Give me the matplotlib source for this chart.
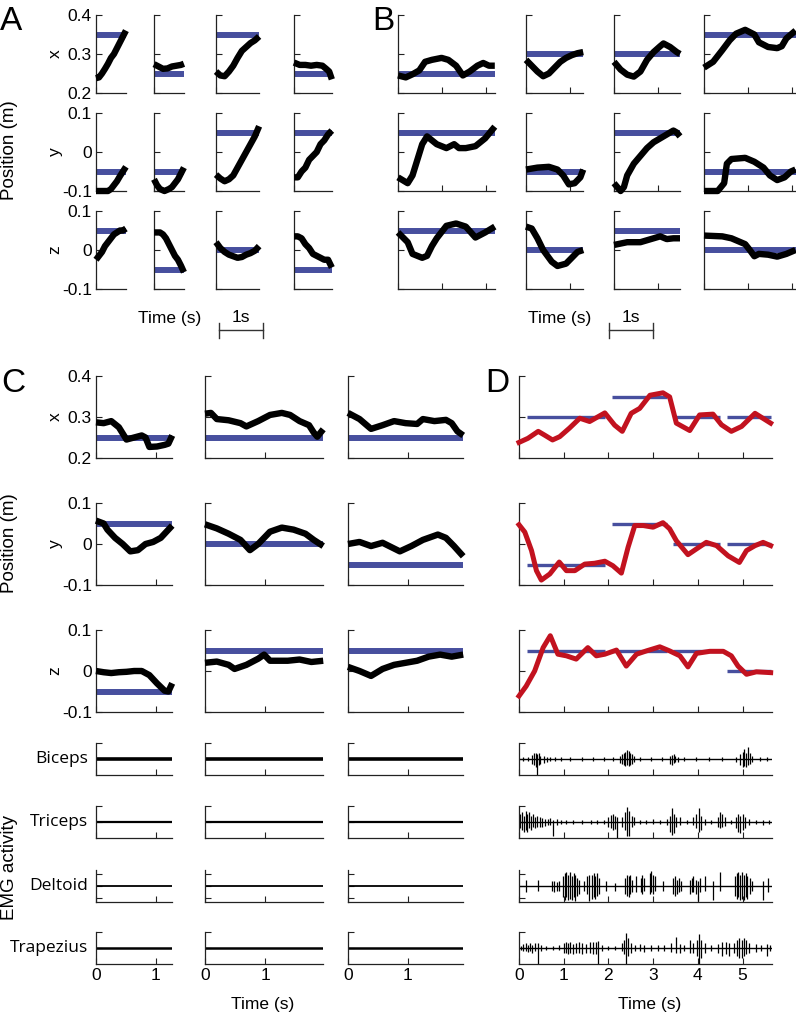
import matplotlib.pyplot as plt
import numpy as np

plt.rcParams['font.family'] = ['Liberation Sans', 'DejaVu Sans']

# ---------------- data ----------------
# trajectories are (fraction of trial, position in m) pairs
A_dur = [0.68, 0.68, 0.98, 0.86]
A_goal_x = [0.35, 0.25, 0.35, 0.25]
A_goal_y = [-0.05, -0.05, 0.05, 0.05]
A_goal_z = [0.05, -0.05, 0.0, -0.05]
A_x = [
    [(0, .238), (.1, .24), (.2, .25), (.3, .262), (.4, .275), (.5, .29), (.6, .30), (.7, .315), (.8, .33), (.9, .345), (1, .36)],
    [(0, .274), (.15, .268), (.3, .262), (.45, .263), (.6, .268), (.75, .27), (.9, .272), (1, .275)],
    [(0, .255), (.1, .245), (.2, .243), (.3, .255), (.4, .27), (.5, .29), (.6, .308), (.7, .318), (.8, .328), (.9, .335), (1, .345)],
    [(0, .278), (.15, .272), (.3, .272), (.45, .27), (.6, .272), (.75, .27), (.85, .262), (.93, .255), (1, .235)],
]
A_y = [
    [(0, -.1), (.2, -.1), (.4, -.1), (.5, -.095), (.6, -.085), (.7, -.075), (.8, -.062), (.9, -.05), (1, -.038)],
    [(0, -.07), (.1, -.085), (.2, -.095), (.35, -.1), (.5, -.095), (.6, -.09), (.7, -.08), (.8, -.07), (.9, -.055), (1, -.04)],
    [(0, -.058), (.1, -.068), (.2, -.075), (.3, -.07), (.4, -.06), (.5, -.04), (.6, -.02), (.7, 0), (.8, .02), (.9, .04), (1, .066)],
    [(0, -.065), (.1, -.065), (.2, -.05), (.3, -.04), (.4, -.02), (.5, -.01), (.6, 0), (.7, .02), (.8, .03), (.9, .045), (1, .055)],
]
A_z = [
    [(0, -.025), (.1, -.015), (.2, -.005), (.3, .01), (.4, .02), (.5, .03), (.6, .04), (.7, .045), (.8, .05), (.9, .05), (1, .055)],
    [(0, .045), (.2, .045), (.3, .04), (.4, .03), (.5, .015), (.6, 0), (.7, -.015), (.8, -.025), (.9, -.04), (1, -.057)],
    [(0, .02), (.1, .005), (.2, -.005), (.3, -.012), (.5, -.02), (.6, -.018), (.7, -.012), (.8, -.008), (.9, -.002), (1, .01)],
    [(0, .035), (.1, .035), (.2, .03), (.3, .015), (.4, .005), (.5, -.01), (.6, -.015), (.7, -.02), (.8, -.025), (.9, -.025), (1, -.045)],
]

B_dur = [2.2, 1.3, 1.5, 2.08]
B_goal_x = [0.25, 0.30, 0.30, 0.35]
B_goal_y = [0.05, -0.05, 0.05, -0.05]
B_goal_z = [0.05, 0.0, 0.05, 0.0]
B_x = [
    [(0, .245), (.08, .24), (.15, .248), (.22, .258), (.28, .28), (.35, .285), (.45, .29), (.52, .285), (.6, .27), (.67, .245), (.74, .255), (.82, .27), (.88, .277), (.94, .27), (1, .27)],
    [(0, .285), (.1, .27), (.2, .255), (.3, .243), (.4, .25), (.5, .265), (.6, .28), (.7, .29), (.8, .297), (.9, .302), (1, .305)],
    [(0, .28), (.1, .26), (.2, .247), (.3, .242), (.4, .255), (.5, .285), (.6, .305), (.7, .32), (.75, .327), (.85, .318), (.95, .305), (1, .30)],
    [(0, .265), (.1, .28), (.2, .31), (.28, .335), (.35, .352), (.45, .362), (.55, .35), (.6, .33), (.7, .318), (.8, .315), (.85, .32), (.9, .34), (1, .36)],
]
B_y = [
    [(0, -.065), (.1, -.08), (.15, -.06), (.2, -.02), (.25, .02), (.3, .04), (.35, .03), (.4, .02), (.5, .01), (.58, .02), (.63, .01), (.7, .01), (.8, .015), (.9, .035), (1, .065)],
    [(0, -.045), (.2, -.04), (.4, -.038), (.55, -.045), (.65, -.06), (.75, -.083), (.85, -.08), (.95, -.065), (1, -.045)],
    [(0, -.08), (.1, -.1), (.15, -.09), (.2, -.06), (.3, -.03), (.4, -.01), (.5, .01), (.6, .025), (.7, .035), (.8, .045), (.9, .055), (.95, .05), (1, .04)],
    [(0, -.1), (.15, -.1), (.22, -.08), (.25, -.03), (.3, -.018), (.45, -.015), (.55, -.025), (.65, -.04), (.72, -.06), (.8, -.072), (.88, -.065), (.95, -.05), (1, -.045)],
]
B_z = [
    [(0, .045), (.1, .02), (.15, -.01), (.2, -.015), (.25, -.02), (.3, -.015), (.35, .01), (.4, .03), (.5, .062), (.6, .068), (.7, .06), (.8, .032), (.9, .045), (1, .06)],
    [(0, .06), (.1, .055), (.2, .03), (.3, 0), (.45, -.03), (.55, -.041), (.7, -.035), (.8, -.02), (.9, -.005), (1, 0)],
    [(0, .013), (.2, .02), (.4, .02), (.6, .03), (.7, .035), (.8, .028), (.9, .03), (1, .03)],
    [(0, .037), (.2, .035), (.3, .03), (.4, .02), (.45, .015), (.5, 0), (.55, -.016), (.6, -.01), (.7, -.012), (.8, -.017), (.9, -.01), (1, 0)],
]

C_dur = [1.27, 1.97, 1.92]
C_goal_x = [0.25, 0.25, 0.25]
C_goal_y = [0.05, 0.0, -0.05]
C_goal_z = [-0.05, 0.05, 0.05]
C_x = [
    [(0, .287), (.1, .285), (.2, .29), (.3, .275), (.35, .26), (.4, .245), (.5, .25), (.6, .255), (.65, .25), (.7, .227), (.8, .228), (.9, .232), (.95, .235), (1, .255)],
    [(0, .308), (.05, .31), (.1, .295), (.2, .292), (.3, .285), (.35, .277), (.45, .29), (.55, .305), (.65, .31), (.72, .305), (.8, .29), (.88, .28), (.92, .262), (.95, .252), (1, .27)],
    [(0, .31), (.1, .295), (.2, .271), (.3, .28), (.4, .29), (.5, .285), (.6, .283), (.65, .295), (.75, .29), (.85, .293), (.9, .285), (.95, .265), (1, .255)],
]
C_y = [
    [(0, .057), (.1, .05), (.15, .035), (.25, .015), (.35, 0), (.45, -.018), (.55, -.015), (.65, 0), (.75, .005), (.85, .015), (.9, .025), (1, .045)],
    [(0, .048), (.1, .038), (.2, .025), (.3, .01), (.38, -.015), (.45, 0), (.55, .03), (.65, .04), (.75, .035), (.85, .025), (.92, .01), (1, -.005)],
    [(0, 0), (.1, .005), (.2, -.005), (.3, .003), (.45, -.018), (.55, -.005), (.65, .01), (.78, .023), (.85, .015), (.92, -.005), (1, -.03)],
]
C_z = [
    [(0, 0), (.1, -.003), (.2, -.005), (.3, -.003), (.4, -.002), (.5, 0), (.6, 0), (.7, -.01), (.8, -.03), (.9, -.048), (.95, -.05), (1, -.03)],
    [(0, .02), (.1, .023), (.2, .015), (.25, .005), (.35, .015), (.45, .03), (.5, .04), (.55, .025), (.7, .025), (.8, .028), (.9, .022), (1, .025)],
    [(0, .01), (.1, 0), (.2, -.012), (.3, .005), (.4, .015), (.5, .02), (.6, .025), (.7, .035), (.8, .04), (.9, .035), (1, .04)],
]

# panel D: (time s, position m)
D_dur = 5.66
D_seg_start = [0.18, 2.07, 3.45, 4.66]
D_seg_end = [1.92, 3.30, 4.50, 5.63]
D_goal_x = [0.30, 0.35, 0.30, 0.30]
D_goal_y = [-0.05, 0.05, 0.0, 0.0]
D_goal_z = [0.05, 0.05, 0.05, 0.0]
D_x = [(0, .238), (.2, .248), (.43, .265), (.57, .256), (.75, .244), (.91, .252), (1.13, .273), (1.36, .297),
       (1.58, .289), (1.92, .31), (2.14, .28), (2.31, .265), (2.51, .309), (2.7, .321), (2.93, .353), (3.22, .359),
       (3.37, .349), (3.52, .285), (3.82, .267), (4.04, .305), (4.34, .307), (4.53, .281), (4.75, .265),
       (4.98, .277), (5.28, .309), (5.63, .285)]
D_y = [(0, .047), (.13, .029), (.28, -.016), (.39, -.065), (.5, -.088), (.69, -.073), (.9, -.044), (1.06, -.065),
       (1.25, -.065), (1.47, -.049), (1.69, -.047), (1.92, -.042), (2.1, -.053), (2.29, -.071), (2.44, -.008),
       (2.59, .045), (2.78, .045), (3.0, .041), (3.22, .052), (3.37, .037), (3.52, .008), (3.78, -.026),
       (3.97, -.012), (4.19, .004), (4.42, -.004), (4.68, -.029), (4.93, -.045), (5.09, -.016), (5.28, -.004),
       (5.46, .004), (5.63, -.004)]
D_z = [(0, -.061), (.16, -.037), (.35, 0), (.54, .057), (.7, .086), (.87, .041), (1.06, .037), (1.28, .029),
       (1.54, .057), (1.73, .037), (1.92, .041), (2.18, .051), (2.4, .012), (2.63, .041), (2.85, .049),
       (3.15, .059), (3.37, .049), (3.6, .037), (3.78, .01), (3.97, .043), (4.27, .048), (4.57, .048),
       (4.75, .037), (4.9, .012), (5.09, -.008), (5.31, -.002), (5.63, -.004)]

muscles = ['Biceps', 'Triceps', 'Deltoid', 'Trapezius']
# EMG spikes in D: (time s, up, down) in normalised units
bic_D = [(0.10, .1, .1), (0.20, .15, .15), (0.30, .25, .3), (0.34, .35, .35), (0.38, .4, .5), (0.41, .3, 1.0),
         (0.44, .35, .4), (0.48, .2, .3), (0.55, .2, .25), (0.62, .15, .2), (0.70, .12, .15), (0.80, .1, .12),
         (0.95, .1, .1), (1.15, .1, .12), (1.40, .1, .1), (1.65, .1, .1), (1.90, .1, .1), (2.10, .12, .12),
         (2.25, .2, .25), (2.30, .3, .3), (2.34, .35, .4), (2.38, .45, .45), (2.42, .55, .4), (2.45, .5, .45),
         (2.48, .35, .35), (2.52, .3, .3), (2.58, .2, .2), (2.70, .15, .15), (2.95, .12, .12), (3.20, .1, .1),
         (3.38, .2, .3), (3.42, .25, .35), (3.46, .3, .25), (3.50, .2, .2), (3.55, .15, .2), (3.70, .1, .1),
         (3.95, .1, .1), (4.25, .1, .1), (4.55, .1, .1), (4.85, .15, .2), (4.95, .3, .4), (5.00, .45, .5),
         (5.04, .6, .45), (5.08, .4, .5), (5.12, .75, .4), (5.16, .35, .3), (5.22, .2, .2), (5.40, .1, .1),
         (5.55, .1, .1)]
tri_D = [(0.03, .5, .4), (0.07, .6, .5), (0.11, .4, .6), (0.15, .7, .5), (0.19, .5, .6), (0.23, .6, .4),
         (0.27, .4, .5), (0.31, .5, .3), (0.36, .3, .4), (0.41, .4, .3), (0.46, .3, .3), (0.52, .25, .3),
         (0.58, .2, .25), (0.64, .2, .2), (0.70, .25, .2), (0.76, .15, .85), (0.85, .2, .2), (0.95, .15, .15),
         (1.05, .12, .15), (1.2, .1, .1), (1.4, .1, .1), (1.6, .12, .12), (1.75, .15, .12), (1.9, .15, .15),
         (2.0, .3, .3), (2.05, .45, .4), (2.1, .5, .5), (2.15, .4, .45), (2.2, .3, 1.0), (2.3, .3, .3),
         (2.38, .6, .5), (2.42, .95, .9), (2.46, .7, .85), (2.52, .4, .3), (2.58, .3, .2), (2.7, .15, .15),
         (2.85, .12, .12), (3.0, .2, .15), (3.15, .12, .12), (3.3, .2, .2), (3.38, .35, .6), (3.42, .9, .8),
         (3.46, .5, .7), (3.52, .3, .3), (3.6, .3, .2), (3.75, .15, .15), (3.9, .3, .2), (3.97, .5, .4),
         (4.02, .9, .6), (4.07, .4, .5), (4.15, .2, .2), (4.3, .15, .15), (4.45, .3, .3), (4.5, .6, .4),
         (4.55, .5, .3), (4.6, .3, .25), (4.75, .15, .15), (4.85, .3, .4), (4.9, .5, .6), (4.95, .4, .7),
         (5.0, .5, .5), (5.05, .3, .4), (5.15, .2, .2), (5.3, .15, .15), (5.45, .15, .2), (5.6, .15, .15)]
del_D = [(0.16, .35, .4), (0.43, .4, .3), (0.74, .3, .3), (0.79, .3, .35), (0.84, .25, .3), (0.9, .3, .3),
         (0.98, .6, .7), (1.02, .8, .9), (1.06, .9, .7), (1.1, .7, .9), (1.14, .9, .8), (1.18, .6, .9),
         (1.22, .8, .7), (1.26, .7, .95), (1.3, .5, .6), (1.35, .4, .5), (1.45, .3, .3), (1.52, .6, .5),
         (1.56, .7, .95), (1.63, .7, .8), (1.67, .8, .7), (1.71, .6, .8), (1.75, .8, .6), (1.79, .5, .5),
         (1.95, .3, .3), (2.15, .2, .3), (2.37, .5, .5), (2.41, .7, .6), (2.45, .6, .7), (2.49, .7, .5),
         (2.53, .4, .4), (2.62, .6, .4), (2.72, .5, .4), (2.76, .7, .5), (2.8, .5, .3), (2.92, .8, .5),
         (2.96, .95, .4), (3.0, .7, .5), (3.04, .6, .3), (3.22, .3, .3), (3.45, .5, .5), (3.49, .6, .6),
         (3.53, .4, .5), (3.57, .5, .4), (3.62, .3, .3), (3.82, .4, .5), (3.86, .5, .4), (3.9, .6, .4),
         (3.95, .4, .5), (4.0, .3, .95), (4.05, .5, .4), (4.15, .6, .3), (4.34, .3, .9), (4.5, .9, .3),
         (4.83, .6, .6), (4.87, .8, .8), (4.91, .9, .7), (4.95, .7, .9), (4.99, .9, .8), (5.03, .7, .9),
         (5.07, .8, .7), (5.11, .6, .8), (5.16, .5, .5), (5.22, .3, .3), (5.46, .3, .9), (5.57, .5, .4)]
tra_D = [(0.05, .15, .15), (0.1, .25, .2), (0.15, .3, .2), (0.2, .2, .25), (0.25, .3, .2), (0.3, .2, .3),
         (0.35, .3, .2), (0.43, .3, 1.0), (0.5, .2, .2), (0.6, .15, .15), (0.75, .15, .15), (0.9, .2, .15),
         (1.0, .3, .3), (1.05, .35, .3), (1.1, .3, .4), (1.15, .35, .3), (1.2, .25, .35), (1.28, .3, .3),
         (1.35, .35, .3), (1.42, .3, .35), (1.5, .25, .3), (1.58, .35, .3), (1.65, .4, .35), (1.72, .35, .4),
         (1.77, .45, 1.0), (1.85, .2, .2), (2.0, .15, .15), (2.15, .15, .15), (2.3, .3, .2), (2.36, .5, .4),
         (2.4, .95, 1.0), (2.44, .6, .5), (2.5, .3, .3), (2.6, .2, .2), (2.7, .25, .2), (2.8, .2, .25),
         (2.95, .2, .2), (3.1, .2, .2), (3.25, .2, .2), (3.4, .3, .25), (3.52, .7, .3), (3.6, .25, .3),
         (3.7, .2, .2), (3.82, .5, .3), (3.9, .3, .3), (3.98, .5, .5), (4.03, .9, 1.0), (4.07, .5, .6),
         (4.15, .3, .3), (4.3, .2, .2), (4.45, .25, .3), (4.55, .4, .5), (4.62, .35, .4), (4.7, .3, .5),
         (4.8, .3, .3), (4.88, .5, .5), (4.93, .6, .6), (4.98, .5, .6), (5.03, .6, .5), (5.08, .5, .4),
         (5.15, .3, .3), (5.3, .25, .25), (5.42, .2, .2), (5.54, .25, .5), (5.62, .2, .2)]
emg_D = [bic_D, tri_D, del_D, tra_D]
# baseline noise thickness of the flat EMG in C
emg_C_width = [2.6, 1.6, 1.3, 1.8]

# ---------------- layout ----------------
W, H = 796, 1017
fig = plt.figure(figsize=(W / 100, H / 100), dpi=100)
BLUE = '#474f9e'
RED = '#c2121f'
FS = 12.5


def box(x, y, w, h):
    return [x / W, 1 - (y + h) / H, w / W, h / H]


def style(ax, dur, ylim, yticks, ylabels=False):
    ax.set_xlim(0, dur)
    ax.set_ylim(*ylim)
    for s in ['top', 'right']:
        ax.spines[s].set_visible(False)
    for s in ['left', 'bottom']:
        ax.spines[s].set_linewidth(0.9)
        ax.spines[s].set_color('#222222')
    ax.tick_params(direction='in', length=4, width=0.8, labelsize=FS, pad=3, colors='#222222',
                   labelcolor='black')
    ax.set_xticks(np.arange(0, int(dur) + 1))
    ax.set_xticklabels([])
    ax.set_yticks(yticks)
    if ylabels:
        ax.set_yticklabels(['%g' % v for v in yticks])
    else:
        ax.set_yticklabels([])


rows_lim = [((0.2, 0.4), [0.2, 0.3, 0.4]), ((-0.1, 0.1), [-0.1, 0, 0.1]), ((-0.1, 0.1), [-0.1, 0, 0.1])]


def traj_panel(lefts, tops, h, pps, durs, goals, trajs):
    axes = []
    for r in range(3):
        row = []
        for c, dur in enumerate(durs):
            ax = fig.add_axes(box(lefts[c], tops[r], dur * pps, h))
            style(ax, dur, rows_lim[r][0], rows_lim[r][1])
            ax.plot([0, dur], [goals[r][c]] * 2, color=BLUE, lw=4.3, solid_capstyle='butt', zorder=2)
            tr = np.array(trajs[r][c])
            ax.plot(tr[:, 0] * dur, tr[:, 1], color='black', lw=4.6, solid_joinstyle='round',
                    solid_capstyle='butt', zorder=3, clip_on=False)
            row.append(ax)
        axes.append(row)
    return axes


# panel A and B
AB_tops = [15, 113, 211]
axA = traj_panel([96, 154, 216, 294], AB_tops, 78, 44, A_dur,
                 [A_goal_x, A_goal_y, A_goal_z], [A_x, A_y, A_z])
axB = traj_panel([398, 526, 614, 704], AB_tops, 78, 44, B_dur,
                 [B_goal_x, B_goal_y, B_goal_z], [B_x, B_y, B_z])
for r in range(3):
    axA[r][0].set_yticklabels(['%g' % v for v in rows_lim[r][1]])

# panel C
C_tops = [376, 503, 630]
axC = traj_panel([96, 205, 348], C_tops, 82, 60, C_dur,
                 [C_goal_x, C_goal_y, C_goal_z], [C_x, C_y, C_z])
for r in range(3):
    axC[r][0].set_yticklabels(['%g' % v for v in rows_lim[r][1]])

# panel D
D_goals = [D_goal_x, D_goal_y, D_goal_z]
D_trajs = [D_x, D_y, D_z]
for r in range(3):
    ax = fig.add_axes(box(519, C_tops[r], D_dur * 44.7, 82))
    style(ax, D_dur, rows_lim[r][0], rows_lim[r][1])
    for s0, s1, g in zip(D_seg_start, D_seg_end, D_goals[r]):
        ax.plot([s0, s1], [g, g], color=BLUE, lw=2.4, solid_capstyle='butt', zorder=2)
    tr = np.array(D_trajs[r])
    ax.plot(tr[:, 0], tr[:, 1], color=RED, lw=3.6, solid_joinstyle='round', zorder=3, clip_on=False)

# EMG rows
emg_tops = [743, 806, 870, 932]
for m, name in enumerate(muscles):
    yt = [-0.75, 0, 0.75] if name == 'Deltoid' else [0, 1]
    for c, (left, dur) in enumerate(zip([96, 205, 348], C_dur)):
        ax = fig.add_axes(box(left, emg_tops[m], dur * 60, 32))
        style(ax, dur, (-1, 1), yt)
        ax.plot([0, dur], [0, 0], color='black', lw=emg_C_width[m], solid_capstyle='butt')
        if m == 3:
            ax.set_xticklabels([str(v) for v in range(int(dur) + 1)])
    ax = fig.add_axes(box(519, emg_tops[m], D_dur * 44.7, 32))
    style(ax, D_dur, (-1, 1), yt)
    ax.plot([0, D_dur], [0, 0], color='black', lw=1.0)
    sp = np.array(emg_D[m])
    ax.vlines(sp[:, 0], -sp[:, 2], sp[:, 1], color='black', lw=0.9)
    if m == 3:
        ax.set_xticklabels([str(v) for v in range(int(D_dur) + 1)])
    fig.text(88 / W, 1 - (emg_tops[m] + 16) / H, name, ha='right', va='center', fontsize=FS,
             family=['Open Sans', 'DejaVu Sans'])

# scale bars (1 s) under A and B
for ax, x0 in [(axA[2][2], 0.07), (axB[2][2], -0.11)]:
    tr = ax.get_xaxis_transform()
    ax.plot([x0, x0 + 1], [-0.53, -0.53], color='#333333', lw=1.0, transform=tr, clip_on=False)
    for xe in (x0, x0 + 1):
        ax.plot([xe, xe], [-0.43, -0.63], color='#333333', lw=1.0, transform=tr, clip_on=False)
    ax.text(x0 + 0.5, -0.36, '1s', transform=tr, ha='center', va='center', fontsize=FS)

# texts
def ftext(x, y, s, **kw):
    fig.text(x / W, 1 - y / H, s, **kw)


ftext(170, 318, 'Time (s)', ha='center', va='center', fontsize=FS)
ftext(560, 318, 'Time (s)', ha='center', va='center', fontsize=FS)
ftext(263, 1005, 'Time (s)', ha='center', va='center', fontsize=FS)
ftext(650, 1005, 'Time (s)', ha='center', va='center', fontsize=FS)
ftext(10, 150, 'Position (m)', rotation=90, ha='center', va='center', fontsize=13.5)
ftext(10, 543, 'Position (m)', rotation=90, ha='center', va='center', fontsize=13.5)
ftext(10, 868, 'EMG activity', rotation=90, ha='center', va='center', fontsize=13.5)
for lab, ya, yc in zip(['x', 'y', 'z'], [54, 152, 250], [417, 544, 671]):
    ftext(55, ya, lab, rotation=90, ha='center', va='center', fontsize=FS)
    ftext(55, yc, lab, rotation=90, ha='center', va='center', fontsize=FS)
for lab, x, y in [('A', 0, 22), ('B', 372, 22), ('C', 1, 384), ('D', 485, 384)]:
    ftext(x, y, lab, ha='left', va='center', fontsize=24)

fig.savefig('out.png', dpi=100)
